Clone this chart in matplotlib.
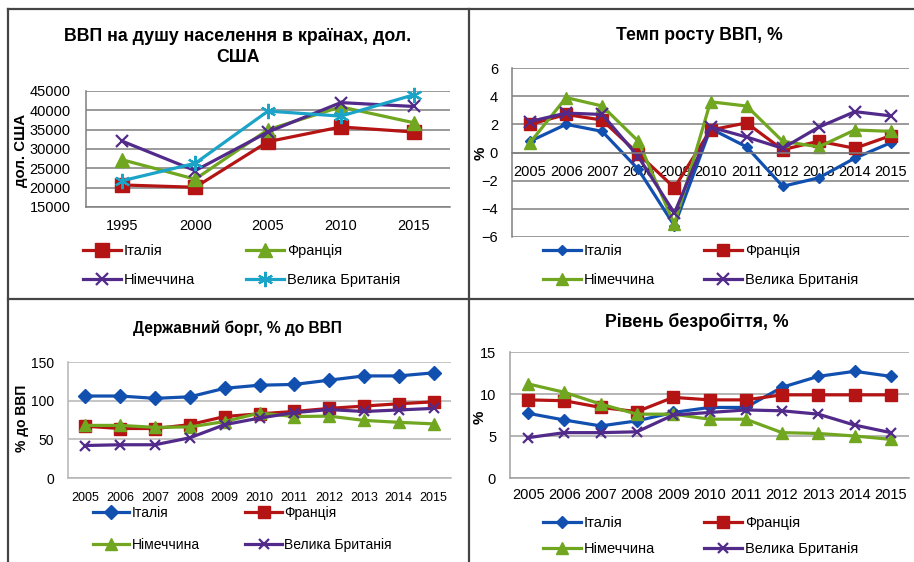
import matplotlib.pyplot as plt
from matplotlib.lines import Line2D

plt.rcParams['font.family'] = ['Liberation Sans', 'DejaVu Sans']

W, H = 914, 562

countries = ['Італія', 'Франція', 'Німеччина', 'Велика Британія']

# ВВП на душу населення, дол. США
years_gdp = ['1995', '2000', '2005', '2010', '2015']
gdp_italy = [20700, 20100, 31900, 35700, 34400]
gdp_france = [27200, 22200, 35000, 40900, 36800]
gdp_germany = [32000, 24400, 34400, 42000, 41000]
gdp_uk = [21800, 26300, 39800, 38500, 44000]

years = ['2005', '2006', '2007', '2008', '2009', '2010',
         '2011', '2012', '2013', '2014', '2015']

# Темп росту ВВП, %
growth_italy = [0.8, 2.0, 1.5, -1.2, -5.2, 1.7, 0.4, -2.4, -1.8, -0.4, 0.7]
growth_france = [2.0, 2.7, 2.3, -0.1, -2.5, 1.6, 2.1, 0.2, 0.8, 0.3, 1.2]
growth_germany = [0.7, 3.9, 3.3, 0.8, -5.1, 3.6, 3.3, 0.8, 0.4, 1.6, 1.5]
growth_uk = [2.2, 2.8, 2.7, -0.3, -4.3, 1.8, 1.1, 0.3, 1.8, 2.9, 2.6]

# Державний борг, % до ВВП
debt_italy = [106, 106, 103, 105, 116, 120, 121, 126.5, 132, 132, 136]
debt_france = [67, 64, 64, 69, 79.5, 83, 86, 90, 93, 96, 98.5]
debt_germany = [68, 68, 65.5, 66, 73, 84, 79.5, 80, 74.5, 72, 70]
debt_uk = [42, 43, 43, 52, 69, 77.5, 84.5, 88.5, 86, 88, 90]

# Рівень безробіття, %
unemp_italy = [7.7, 6.9, 6.2, 6.8, 7.8, 8.4, 8.4, 10.8, 12.1, 12.7, 12.1]
unemp_france = [9.3, 9.2, 8.4, 7.9, 9.6, 9.3, 9.3, 9.9, 9.9, 9.9, 9.9]
unemp_germany = [11.2, 10.2, 8.8, 7.6, 7.6, 7.0, 7.0, 5.4, 5.3, 5.0, 4.6]
unemp_uk = [4.8, 5.4, 5.4, 5.5, 7.5, 7.8, 8.1, 8.0, 7.6, 6.3, 5.4]

BLUE = '#1250b0'
RED = '#b41414'
GREEN = '#71a620'
PURPLE = '#522a8a'
CYAN = '#1ca3c8'
ASTER = (6, 2, 0)

fig = plt.figure(figsize=(W / 100, H / 100), dpi=100)


def px_box(x0, y0, x1, y1):
    return [x0 / W, 1 - y1 / H, (x1 - x0) / W, (y1 - y0) / H]


def panel(box, labels, data, styles, ylim, yticks, grid_color, tick_size,
          xtick_size=None, xpad=8, ypad=9):
    ax = fig.add_axes(px_box(*box))
    x = list(range(len(labels)))
    handles = []
    for values, (color, marker, ms) in zip(data, styles):
        mew = 1.6 if marker in ('x', ASTER) else 1
        h, = ax.plot(x, values, color=color, lw=2.3, marker=marker, ms=ms,
                     mfc=color, mec=color, mew=mew, clip_on=False)
        handles.append(h)
    ax.set_xlim(-0.5, len(labels) - 0.5)
    ax.set_ylim(*ylim)
    ax.set_yticks(yticks)
    ax.set_xticks(x)
    ax.set_xticklabels(labels)
    ax.yaxis.grid(True, color=grid_color, lw=1.1)
    ax.set_axisbelow(True)
    for s in ('top', 'right'):
        ax.spines[s].set_visible(False)
    for s in ('left', 'bottom'):
        ax.spines[s].set_color(grid_color)
        ax.spines[s].set_linewidth(1.1)
    ax.tick_params(axis='both', length=0)
    ax.tick_params(axis='y', labelsize=tick_size, pad=ypad)
    ax.tick_params(axis='x', labelsize=xtick_size or tick_size, pad=xpad)
    return ax, handles


def legend(ax, handles, x0, x1, ytop, size, spacing=1.0):
    order = [0, 2, 1, 3]
    ax.legend([handles[i] for i in order], [countries[i] for i in order],
              ncol=2, mode='expand', loc='upper left',
              bbox_to_anchor=(x0 / W, 1 - ytop / H - 0.1, (x1 - x0) / W, 0.1),
              bbox_transform=fig.transFigure, frameon=False, fontsize=size,
              handlelength=2.6, handletextpad=0.2, borderpad=0,
              borderaxespad=0, labelspacing=spacing, numpoints=1)


# panel 1
ax1, h1 = panel((86, 91, 450, 207), years_gdp,
                [gdp_italy, gdp_france, gdp_germany, gdp_uk],
                [(RED, 's', 9.5), (GREEN, '^', 10), (PURPLE, 'x', 9), (CYAN, ASTER, 11)],
                (15000, 45000), range(15000, 45001, 5000), '#7f7f7f', 10.5, xpad=9, ypad=11)
legend(ax1, h1, 83, 400, 244, 10.5, spacing=1.05)
fig.text(238 / W, 1 - 47 / H, 'ВВП на душу населення в країнах, дол.\nСША',
         ha='center', va='center', fontsize=12.8, fontweight='bold', linespacing=1.3)
fig.text(21 / W, 1 - 150 / H, 'дол. США', rotation=90, ha='center', va='center',
         fontsize=10.8, fontweight='bold')

# panel 2
ax2, h2 = panel((512, 68, 909, 237), years,
                [growth_italy, growth_france, growth_germany, growth_uk],
                [(BLUE, 'D', 5.5), (RED, 's', 9), (GREEN, '^', 9), (PURPLE, 'x', 8)],
                (-6, 6), range(-6, 7, 2), '#7f7f7f', 10.5, xpad=9, ypad=10)
ax2.spines['bottom'].set_position(('data', 0))
legend(ax2, h2, 543, 858, 244, 10.5, spacing=1.05)
fig.text(699 / W, 1 - 35 / H, 'Темп росту ВВП, %', ha='center', va='center',
         fontsize=12.7, fontweight='bold')
fig.text(481 / W, 1 - 153 / H, '%', rotation=90, ha='center', va='center',
         fontsize=10.8, fontweight='bold')

# panel 3
ax3, h3 = panel((68, 362, 451, 478), years,
                [debt_italy, debt_france, debt_germany, debt_uk],
                [(BLUE, 'D', 7.5), (RED, 's', 8.5), (GREEN, '^', 8.5), (PURPLE, 'x', 7.5)],
                (0, 150), range(0, 151, 50), '#b4b4b4', 10, xtick_size=9,
                xpad=10, ypad=10)
legend(ax3, h3, 93, 392, 506, 10, spacing=1.3)
fig.text(237 / W, 1 - 328 / H, 'Державний борг, % до ВВП', ha='center', va='center',
         fontsize=11.2, fontweight='bold')
fig.text(22 / W, 1 - 418 / H, '% до ВВП', rotation=90, ha='center', va='center',
         fontsize=10, fontweight='bold')

# panel 4
ax4, h4 = panel((510, 352, 909, 478), years,
                [unemp_italy, unemp_france, unemp_germany, unemp_uk],
                [(BLUE, 'D', 6.5), (RED, 's', 8.5), (GREEN, '^', 8.5), (PURPLE, 'x', 7.5)],
                (0, 15), range(0, 16, 5), '#a0a0a0', 10.5, xpad=7, ypad=10)
legend(ax4, h4, 543, 858, 516, 10.5, spacing=0.85)
fig.text(697 / W, 1 - 322 / H, 'Рівень безробіття, %', ha='center', va='center',
         fontsize=12.7, fontweight='bold')
fig.text(480 / W, 1 - 417 / H, '%', rotation=90, ha='center', va='center',
         fontsize=10.8, fontweight='bold')

# frame lines between panels
frame = dict(transform=fig.transFigure, color='#454545', lw=1.6)
fig.add_artist(Line2D([8 / W, 1], [1 - 8.5 / H, 1 - 8.5 / H], **frame))
fig.add_artist(Line2D([8 / W, 8 / W], [0, 1 - 8.5 / H], **frame))
fig.add_artist(Line2D([469 / W, 469 / W], [0, 1 - 8.5 / H], **frame))
fig.add_artist(Line2D([8 / W, 1], [1 - 298.5 / H, 1 - 298.5 / H], **frame))

fig.savefig('out.png', dpi=100)
